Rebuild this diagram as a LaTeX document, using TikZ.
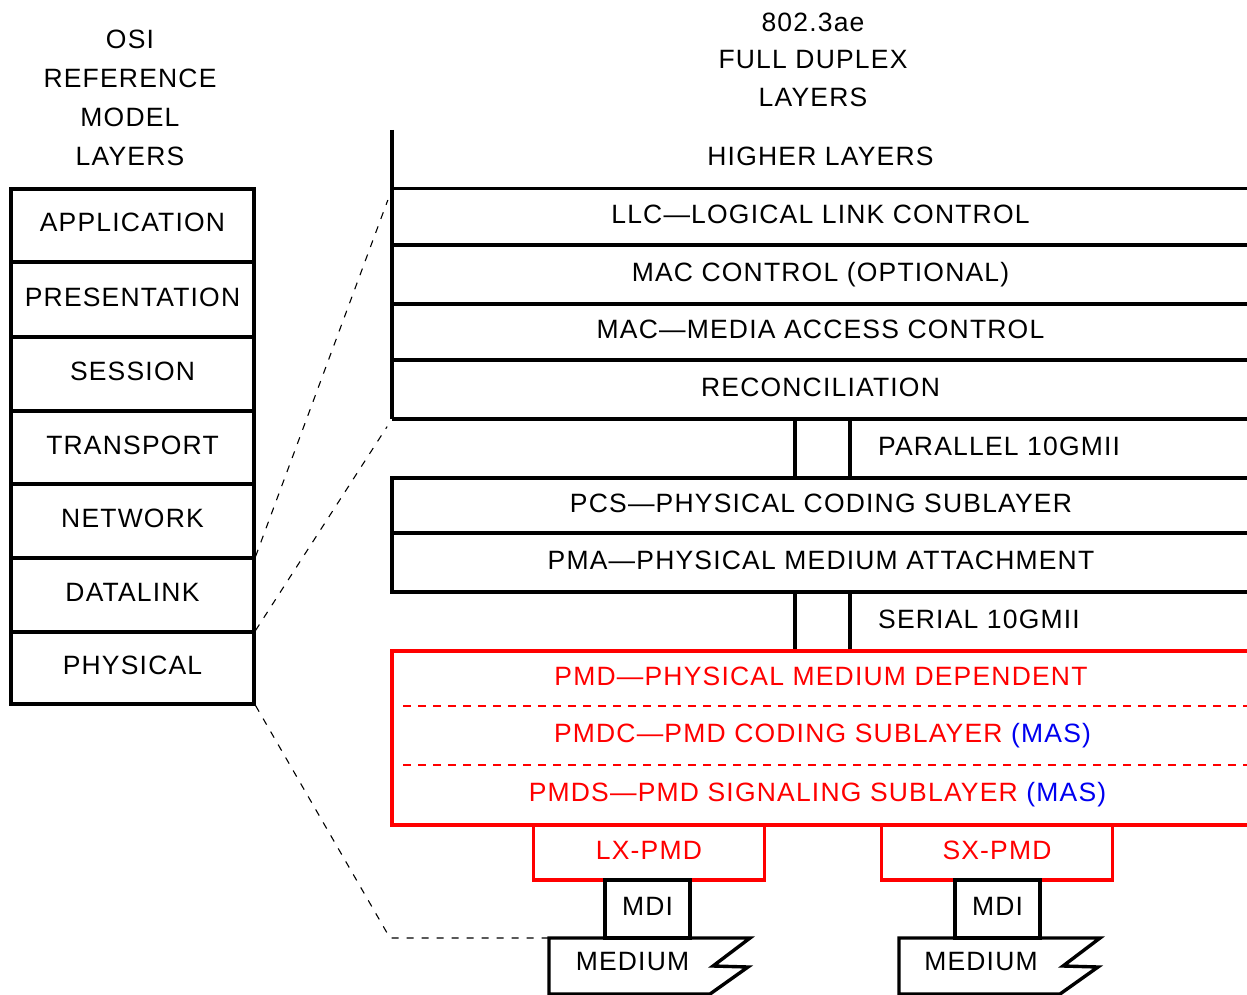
\documentclass[tikz,border=0pt]{standalone}
\usepackage{fontspec}
\setmainfont{Liberation Sans}[LetterSpace=4.5]
\definecolor{pmdred}{RGB}{255,0,0}
\definecolor{masblue}{RGB}{0,0,240}
\tikzset{
  lbl/.style={font=\fontsize{26.5}{31}\selectfont, text height=19pt, text depth=6pt, inner sep=0pt},
  head/.style={font=\fontsize{26.5}{39}\selectfont, align=center, inner sep=0pt},
  rule/.style={line width=3.4pt},
  osibox/.style={lbl, draw, line width=3.2pt, minimum width=243pt},
  layer/.style={lbl, minimum width=855pt},
  smallbox/.style={lbl, draw, line width=3.4pt, minimum width=55pt, minimum height=59pt},
  mdibox/.style={lbl, draw, line width=3.4pt, minimum width=85pt, minimum height=58pt},
  pmdbox/.style={lbl, draw=pmdred, text=pmdred, line width=3.4pt, minimum width=231pt, minimum height=55pt},
  redrule/.style={draw=pmdred, line width=3.6pt},
  reddash/.style={draw=pmdred, line width=2pt, dash pattern=on 8pt off 7pt},
  conn/.style={line width=1.1pt, dash pattern=on 7pt off 8pt},
}
\begin{document}
\begin{tikzpicture}[x=1pt, y=-1pt]
\useasboundingbox (0,0) rectangle (1247,995);

% column headings
\node[head] (osihead) at (130,97.5) {OSI\\REFERENCE\\MODEL\\LAYERS};
\node[head, font=\fontsize{26.5}{37.5}\selectfont] (ieeehead) at (813,59.5) {802.3ae\\FULL DUPLEX\\LAYERS};

% OSI seven-layer column
\node[osibox, minimum height=73pt] (app)   at (132.5,225.5) {APPLICATION};
\node[osibox, minimum height=75pt] (pres)  at (132.5,299.5) {PRESENTATION};
\node[osibox, minimum height=74pt] (sess)  at (132.5,374)   {SESSION};
\node[osibox, minimum height=73pt] (trans) at (132.5,447.5) {TRANSPORT};
\node[osibox, minimum height=74pt] (net)   at (132.5,521)   {NETWORK};
\node[osibox, minimum height=74pt] (dl)    at (132.5,595)   {DATALINK};
\node[osibox, minimum height=72pt] (phy)   at (132.5,668)   {PHYSICAL};

% 802.3ae sublayers
\node[layer, minimum height=59pt] (higher) at (820.5,159.5) {HIGHER LAYERS};
\node[layer, minimum height=56pt] (llc)    at (820.5,217)   {LLC—LOGICAL LINK CONTROL};
\node[layer, minimum height=59pt] (macc)   at (820.5,274.5) {MAC CONTROL (OPTIONAL)};
\node[layer, minimum height=56pt] (mac)    at (820.5,332)   {MAC—MEDIA ACCESS CONTROL};
\node[layer, minimum height=59pt] (recon)  at (820.5,389.5) {RECONCILIATION};

\coordinate (stl) at (392,130);
\coordinate (sbl) at (392,419);
\coordinate (sbr) at (1247,419);
\draw[rule] (stl) -- (sbl);
\foreach \n in {llc,macc,mac,recon}
  \draw[rule] (stl |- \n.north) -- (sbr |- \n.north);
\draw[rule] (sbl) -- (sbr);

% parallel 10GMII
\node[smallbox] (pgmii) at (822.5,448.5) {};
\node[lbl, anchor=west] (pgmiitxt) at (878,448.5) {PARALLEL 10GMII};

% PCS and PMA
\node[layer, minimum height=55pt] (pcs) at (821,505.5) {PCS—PHYSICAL CODING SUBLAYER};
\node[layer, minimum height=59pt] (pma) at (821,562.5) {PMA—PHYSICAL MEDIUM ATTACHMENT};
\coordinate (ptl) at (392,478);
\coordinate (pbl) at (392,592);
\coordinate (pbr) at (1247,592);
\draw[rule] (sbr |- ptl) -- (ptl) -- (pbl) -- (pbr);
\draw[rule] (stl |- pma.north) -- (sbr |- pma.north);

% serial 10GMII
\node[smallbox] (sgmii) at (822.5,621.5) {};
\node[lbl, anchor=west] (sgmiitxt) at (878,621.5) {SERIAL 10GMII};

% PMD group
\node[layer, text=pmdred, minimum height=55pt] (pmd)  at (821,678.5) {PMD—PHYSICAL MEDIUM DEPENDENT};
\node[layer, text=pmdred, minimum height=59pt] (pmdc) at (822.5,735.5) {PMDC—PMD CODING SUBLAYER \textcolor{masblue}{(MAS)}};
\node[layer, text=pmdred, minimum height=60pt] (pmds) at (817.5,795)   {PMDS—PMD SIGNALING SUBLAYER \textcolor{masblue}{(MAS)}};
\coordinate (pmdtl) at (392,651);
\coordinate (pmdtr) at (1247,651);
\coordinate (pmdbl) at (392,825);
\coordinate (pmdbr) at (1247,825);
\draw[redrule] (pmdtr) -- (pmdtl) -- (pmdbl) -- (pmdbr);
\coordinate (d1l) at (403,706);
\coordinate (d1r) at (1247,706);
\coordinate (d2l) at (403,765);
\coordinate (d2r) at (1247,765);
\draw[reddash] (d1l) -- (d1r);
\draw[reddash] (d2l) -- (d2r);

% PMD variants
\node[pmdbox] (lx) at (649,852.5) {LX-PMD};
\node[pmdbox] (sx) at (997,852.5) {SX-PMD};

% MDI
\node[mdibox] (mdi1) at (647.5,909) {MDI};
\node[mdibox] (mdi2) at (997.5,909) {MDI};

% media
\coordinate (m1) at (549,938);
\coordinate (m2) at (899,938);
\foreach \m in {m1,m2}
  \draw[rule, line join=miter] (\m) -- ++(201,0) -- ++(-37,28) -- ++(35,1) -- ++(-38,27) -- ++(-161,0) -- cycle;
\node[lbl] (med1) at (632.5,964) {MEDIUM};
\node[lbl] (med2) at (981,964)   {MEDIUM};

% OSI-to-802.3ae correspondence
\coordinate (bend) at (390,938);
\draw[conn, shorten >=12pt] (dl.north east) -- (stl |- llc.north);
\draw[conn, shorten >=9pt] (phy.north east) -- (sbl);
\draw[conn] (phy.south east) -- (bend) -- (m1);
\end{tikzpicture}
\end{document}
